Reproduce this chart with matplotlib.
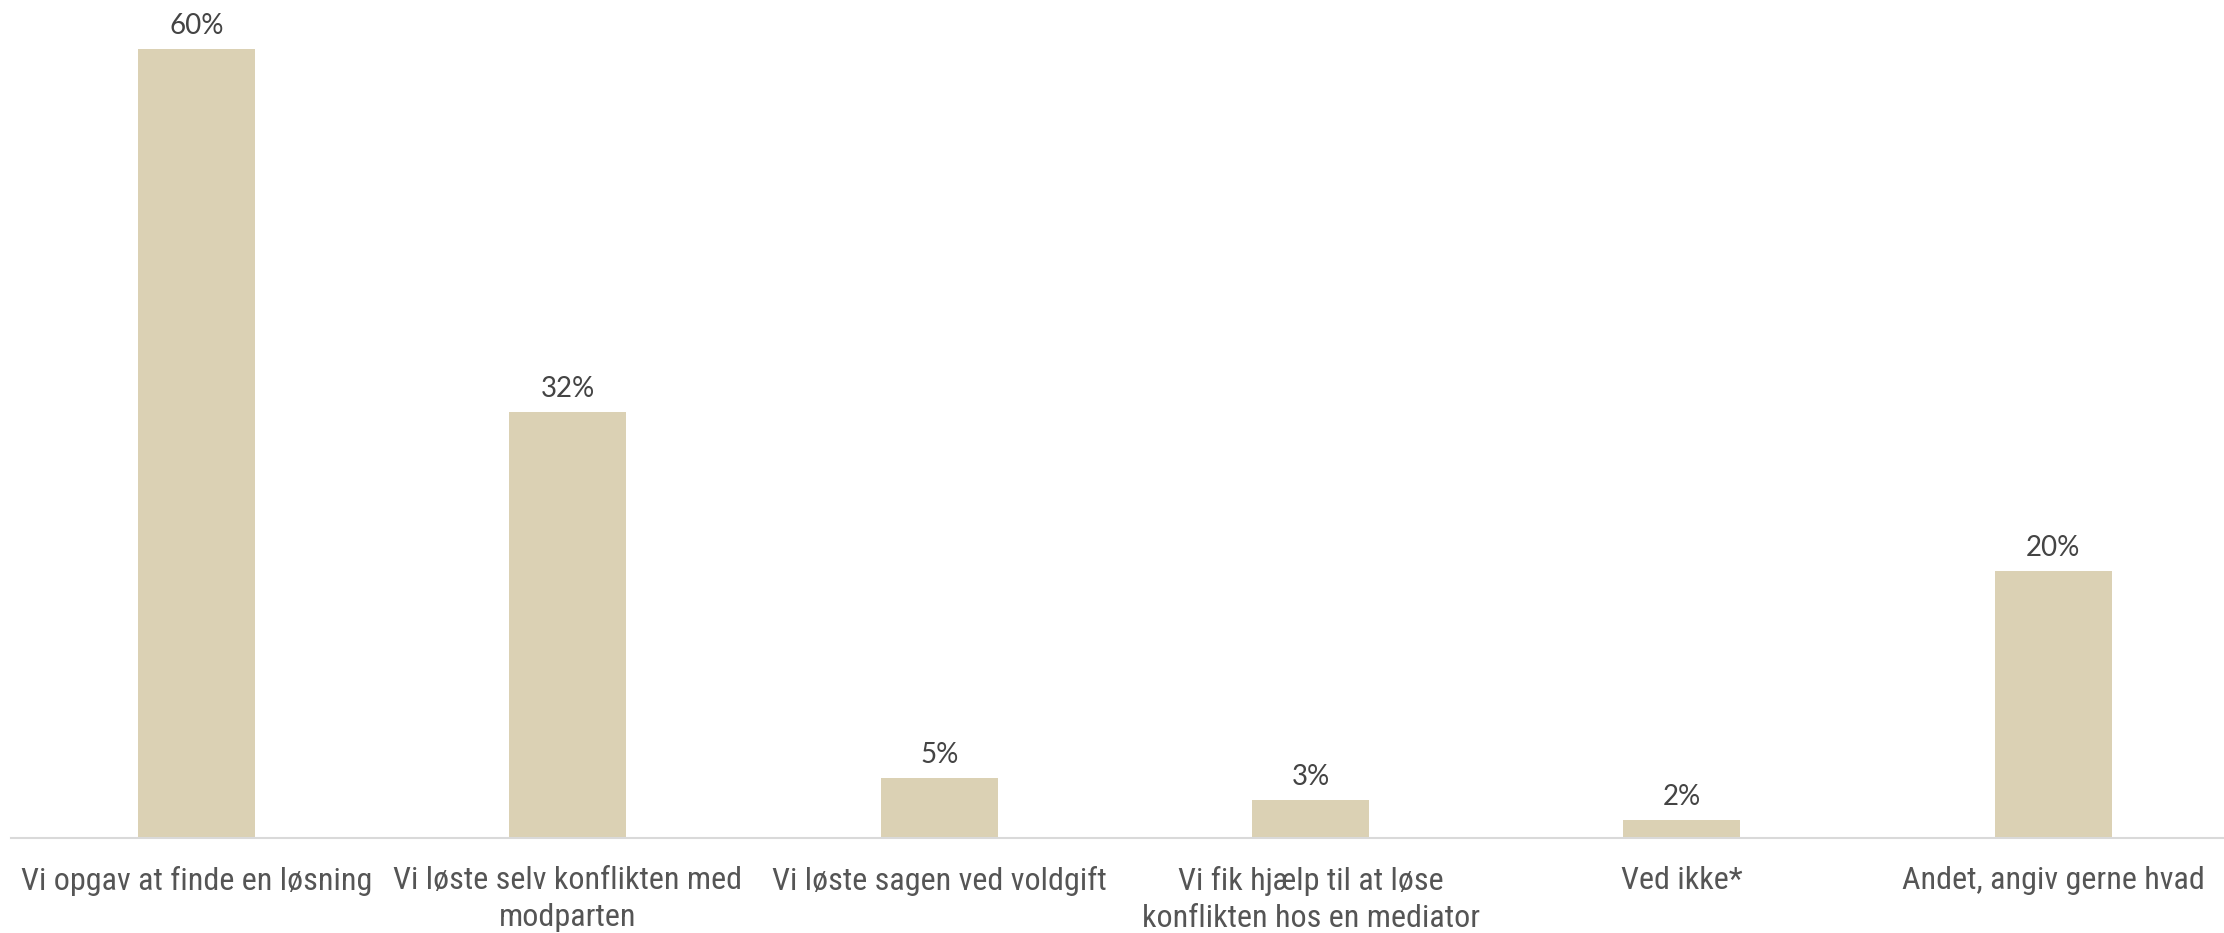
import matplotlib
matplotlib.use("Agg")
import matplotlib.pyplot as plt
from matplotlib import font_manager

categories = [
    "Vi opgav at finde en løsning",
    "Vi løste selv konflikten med\nmodparten",
    "Vi løste sagen ved voldgift",
    "Vi fik hjælp til at løse\nkonflikten hos en mediator",
    "Ved ikke*",
    "Andet, angiv gerne hvad",
]
values = [60.0, 32.4, 4.6, 2.9, 1.4, 20.3]
value_labels = ["60%", "32%", "5%", "3%", "2%", "20%"]

names = {f.name for f in font_manager.fontManager.ttflist}
cat_font = "Roboto"
for cand in ["Roboto Condensed", "Open Sans Condensed", "Liberation Sans Narrow", "Arial Narrow"]:
    if cand in names:
        cat_font = cand
        break

fig = plt.figure(figsize=(22.24, 9.33), dpi=100)
ax = fig.add_axes([11 / 2224, 1 - 838 / 933, 1 - 11 / 2224, (838 - 49) / 933])

# pick a size so the first label is about as wide as in the original
r = fig.canvas.get_renderer()
t = fig.text(0, 0, categories[0], fontsize=20, family=cat_font)
w = t.get_window_extent(r).width
t.remove()
cat_size = 20 * 351 / w

x = range(len(categories))
ax.bar(x, values, width=0.315, color="#dbd1b4")

for i, v in enumerate(values):
    ax.annotate(value_labels[i], (i, v), xytext=(0, 7), textcoords="offset points",
                ha="center", va="bottom", fontsize=20, color="#444444",
                family="Lato")

for i, c in enumerate(categories):
    ax.annotate(c, (i, 0), xytext=(0, -20), textcoords="offset points",
                ha="center", va="top", fontsize=cat_size, color="#555555",
                family=cat_font, linespacing=1.35)

ax.set_xlim(-0.5, 5.46)
ax.set_ylim(0, 60)
for s in ["top", "right", "left"]:
    ax.spines[s].set_visible(False)
ax.spines["bottom"].set_color("#d9d9d9")
ax.spines["bottom"].set_linewidth(1.5)
ax.set_xticks([])
ax.set_yticks([])

fig.savefig("out.png", dpi=100)
